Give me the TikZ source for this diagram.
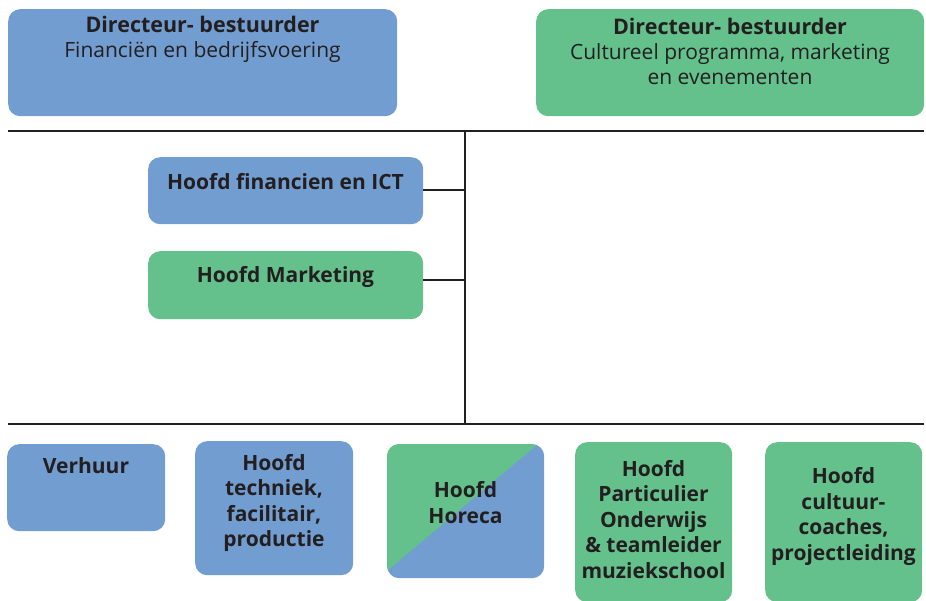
\documentclass[tikz,border=0pt]{standalone}
\usepackage{fontspec}
\setmainfont{Open Sans}
\definecolor{blokblauw}{RGB}{114,157,208}
\definecolor{blokgroen}{RGB}{100,193,140}
\definecolor{inkt}{RGB}{35,31,32}
\newcommand\dirkop[1]{{\fontsize{21.5}{25}\selectfont\bfseries #1}}
\tikzset{
  blok/.style={rounded corners=12pt, inner sep=0pt, anchor=north west},
  blauw/.style={blok, fill=blokblauw},
  groen/.style={blok, fill=blokgroen},
  tekst/.style={align=center, text=inkt, inner sep=0pt,
    font=\fontsize{21}{25}\selectfont},
  kop/.style={tekst, font=\fontsize{21}{25.5}\selectfont\bfseries},
  lijn/.style={draw=inkt, line width=2pt}
}
\begin{document}
\begin{tikzpicture}[x=1pt, y=-1pt]
  \useasboundingbox (0,0) rectangle (926,601);
  % directie
  \node[blauw, minimum width=389pt, minimum height=107pt] (dirA) at (8,9) {};
  \node[groen, minimum width=388pt, minimum height=107pt] (dirB) at (536,9) {};
  \node[tekst] (dirAtxt) at (202.5,39) {\dirkop{Directeur- bestuurder}\\Financiën en bedrijfsvoering};
  \node[tekst] (dirBtxt) at (730,51) {\dirkop{Directeur- bestuurder}\\Cultureel programma, marketing\\en evenementen};
  % lijnen
  \coordinate (boven1) at (8,131);
  \coordinate (boven2) at (924,131);
  \coordinate (onder1) at (8,423.5);
  \coordinate (onder2) at (924,423.5);
  \coordinate (as1) at (465,131);
  \coordinate (as2) at (465,423.5);
  \draw[lijn] (boven1) -- (boven2);
  \draw[lijn] (onder1) -- (onder2);
  \draw[lijn] (as1) -- (as2);
  % hoofden
  \node[blauw, minimum width=275pt, minimum height=67pt] (fin) at (148,157) {};
  \node[groen, minimum width=275pt, minimum height=68pt] (mkt) at (148,251) {};
  \node[kop] (fintxt) at (285.5,182) {Hoofd financien en ICT};
  \node[kop] (mkttxt) at (285.5,277) {Hoofd Marketing};
  \coordinate (finuit) at (423,190.5);
  \coordinate (mktuit) at (423,280);
  \draw[lijn] (finuit) -- (finuit -| as1);
  \draw[lijn] (mktuit) -- (mktuit -| as1);
  % afdelingen
  \node[blauw, minimum width=158pt, minimum height=87pt] (verh) at (7,444) {};
  \node[blauw, minimum width=158pt, minimum height=134pt] (tech) at (195,441) {};
  \node[blauw, minimum width=157pt, minimum height=134pt] (hor) at (387,444) {};
  \begin{scope}
    \clip[rounded corners=12pt] (387,444) rectangle (544,578);
    \fill[blokgroen] (387,444) -- (538,444) -- (387,571) -- cycle;
  \end{scope}
  \node[groen, minimum width=157pt, minimum height=160pt] (part) at (575,442) {};
  \node[groen, minimum width=157pt, minimum height=160pt] (cult) at (765,442) {};
  \node[kop] (verhtxt) at (86,466) {Verhuur};
  \node[kop] (techtxt) at (274,503) {Hoofd\\techniek,\\facilitair,\\productie};
  \node[kop] (hortxt) at (465.5,502.5) {Hoofd\\Horeca};
  \node[kop] (parttxt) at (653.5,519.5) {Hoofd\\Particulier\\Onderwijs\\\&~teamleider\\muziekschool};
  \node[kop] (culttxt) at (843.5,516.5) {Hoofd\\cultuur-\\coaches,\\projectleiding};
\end{tikzpicture}
\end{document}
